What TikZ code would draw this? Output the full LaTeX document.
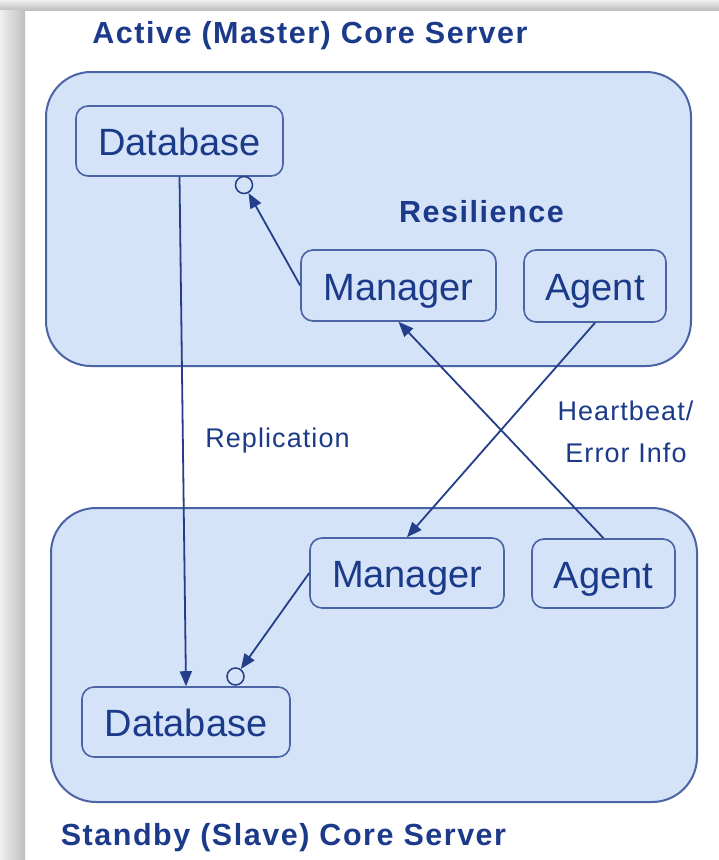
\documentclass[tikz,border=0pt]{standalone}
\usepackage{fontspec}
\setmainfont{Liberation Sans}
\newfontfamily\ttlfont[LetterSpace=5]{Liberation Sans}
\newfontfamily\lblfont[LetterSpace=4]{Liberation Sans}
\usetikzlibrary{arrows.meta,shadings}
\definecolor{txtblue}{RGB}{28,58,138}
\definecolor{boxfill}{RGB}{212,227,247}
\definecolor{boxline}{RGB}{74,100,165}
\definecolor{arrowblue}{RGB}{36,62,138}
\begin{document}
\begin{tikzpicture}[x=1pt,y=1pt,
  container/.style={draw=boxline, line width=2pt, fill=boxfill, rounded corners=45pt, inner sep=0pt},
  compbox/.style={draw=boxline, line width=1.6pt, fill=boxfill, rounded corners=12pt, inner sep=0pt,
    text height=29pt, text depth=0pt, font=\fontsize{38}{44}\selectfont, text=txtblue},
  port/.style={circle, draw=arrowblue, line width=1.5pt, fill=boxfill, minimum size=17pt, inner sep=0pt},
  conn/.style={draw=arrowblue, line width=1.8pt, -{Triangle[length=15pt,width=12pt]}},
  ttl/.style={font=\ttlfont\bfseries\fontsize{30.5}{36}\selectfont, text=txtblue, anchor=base, inner sep=0pt},
  lbl/.style={font=\lblfont\fontsize{27}{32}\selectfont, text=txtblue, anchor=base, inner sep=0pt}
]
\useasboundingbox (0,0) rectangle (719,-860);
% background card with shadow
\fill[white] (0,0) rectangle (719,-860);
\shade[top color=gray!12, bottom color=gray!50] (0,0) rectangle (719,-10);
\shade[left color=gray!12, right color=gray!50] (0,-10) rectangle (25,-860);

% containers
\node[container, minimum width=645pt, minimum height=294pt] (srvA) at (368.5,-219) {};
\node[container, minimum width=646pt, minimum height=294pt] (srvB) at (374,-655) {};

% titles and labels
\node[ttl] (tA) at (310,-43) {Active (Master) Core Server};
\node[ttl] (tB) at (283.5,-845) {Standby (Slave) Core Server};
\node[ttl] (res) at (481.5,-222) {Resilience};
\node[lbl] (repl) at (277.5,-447) {Replication};
\node[lbl] (hb1) at (625.5,-420) {Heartbeat/};
\node[lbl] (hb2) at (626,-462) {Error Info};

% components
\node[compbox, minimum width=207pt, minimum height=70pt] (dbA) at (179.5,-141) {Database};
\node[compbox, minimum width=195pt, minimum height=71pt] (mgA) at (398.5,-285.5) {Manager};
\node[compbox, minimum width=142pt, minimum height=72pt] (agA) at (595,-286) {Agent};
\node[compbox, minimum width=194pt, minimum height=70pt] (mgB) at (407,-573) {Manager};
\node[compbox, minimum width=143pt, minimum height=69pt] (agB) at (603.5,-573.5) {Agent};
\node[compbox, minimum width=208pt, minimum height=70pt] (dbB) at (186,-722) {Database};

% ports
\node[port] (pA) at (244,-185) {};
\node[port] (pB) at (235.5,-676.5) {};

% connectors
\draw[conn] (dbA.south) -- (dbB.north);
\draw[conn] (mgA.west) -- (pA);
\draw[conn] (mgB.west) -- (pB);
\draw[conn] (agA.south) -- (mgB.north);
\draw[conn] (agB.north) -- (mgA.south);
\end{tikzpicture}
\end{document}
